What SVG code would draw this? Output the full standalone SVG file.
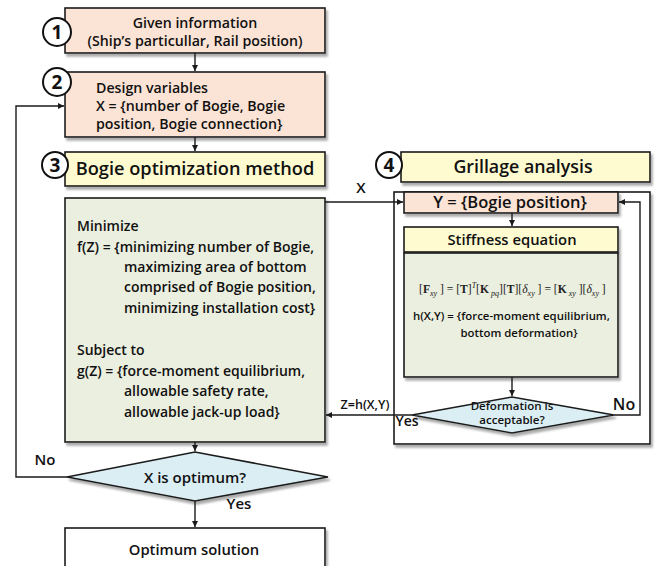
<svg xmlns="http://www.w3.org/2000/svg" width="656" height="566" viewBox="0 0 656 566">
<defs>
<style>
.t{font-family:"Open Sans","Noto Sans","Liberation Sans",sans-serif;font-weight:600;fill:#111}
.box{stroke:#1a1a1a;stroke-width:1.6}
.peach{fill:#fbe4d5}
.yel{fill:#fefbd0}
.grn{fill:#ebefdf}
.dia{fill:#dbeef4}
.circ{fill:#fff;stroke:#111;stroke-width:2}
.ln{fill:none;stroke:#1a1a1a;stroke-width:1.4}
.num{font-family:"Open Sans","Liberation Sans",sans-serif;font-weight:700;font-size:19px;fill:#111}
.f{font-family:"Liberation Serif",serif;font-size:11.6px;fill:#222}
</style>
<filter id="sh" x="-5%" y="-5%" width="115%" height="130%">
<feDropShadow dx="2" dy="3" stdDeviation="0.8" flood-color="#888" flood-opacity="0.7"/>
</filter>
<marker id="ar" viewBox="0 0 10 10" refX="10" refY="5" markerWidth="6" markerHeight="6" orient="auto-start-reverse" markerUnits="userSpaceOnUse">
<path d="M0,0 L10,5 L0,10 z" fill="#1a1a1a"/>
</marker>
</defs>
<rect width="656" height="566" fill="#fff"/>

<g id="frame4">
<rect x="394" y="192" width="256" height="252" fill="#fff" class="box" filter="url(#sh)"/>
</g>

<g id="node1">
<rect x="65" y="8" width="260" height="45" class="box peach" filter="url(#sh)"/>
<text class="t" x="195" y="28" font-size="14.2" text-anchor="middle">Given information</text>
<text class="t" x="195" y="46" font-size="14.2" text-anchor="middle">(Ship’s particullar, Rail position)</text>
<circle cx="57" cy="32" r="14" class="circ"/>
<text class="num" x="57" y="39" text-anchor="middle">1</text>
</g>

<g id="node2">
<rect x="65" y="72" width="260" height="65" class="box peach" filter="url(#sh)"/>
<text class="t" x="96" y="93" font-size="14.2">Design variables</text>
<text class="t" x="96" y="111" font-size="14.2">X = {number of Bogie, Bogie</text>
<text class="t" x="96" y="129" font-size="14.2">position, Bogie connection}</text>
<circle cx="57" cy="82" r="14" class="circ"/>
<text class="num" x="57" y="89" text-anchor="middle">2</text>
</g>

<g id="node3">
<rect x="65" y="152" width="260" height="34" class="box yel" filter="url(#sh)"/>
<text class="t" x="195" y="175" font-size="18.2" text-anchor="middle">Bogie optimization method</text>
<circle cx="55" cy="165" r="13" class="circ"/>
<text class="num" x="55" y="172" text-anchor="middle">3</text>
</g>

<g id="node3body">
<rect x="65" y="198" width="260" height="244" class="box grn" filter="url(#sh)"/>
<text class="t" font-size="14">
<tspan x="77" y="231">Minimize</tspan>
<tspan x="77" y="252">f(Z) = {minimizing number of Bogie,</tspan>
<tspan x="124" y="272">maximizing area of bottom</tspan>
<tspan x="124" y="292">comprised of Bogie position,</tspan>
<tspan x="124" y="313">minimizing installation cost}</tspan>
<tspan x="77" y="355">Subject to</tspan>
<tspan x="77" y="376">g(Z) = {force-moment equilibrium,</tspan>
<tspan x="124" y="396">allowable safety rate,</tspan>
<tspan x="124" y="417">allowable jack-up load}</tspan>
</text>
</g>

<g id="decision1">
<polygon points="67,477 195,452 328,477 195,501" class="box dia" filter="url(#sh)"/>
<text class="t" x="195" y="483" font-size="15" text-anchor="middle">X is optimum?</text>
</g>

<g id="node5">
<rect x="65" y="528" width="260" height="50" fill="#fff" class="box" filter="url(#sh)"/>
<text class="t" x="194" y="555" font-size="14.8" text-anchor="middle">Optimum solution</text>
</g>

<g id="node4">
<rect x="401" y="152" width="249" height="30" class="box yel" filter="url(#sh)"/>
<text class="t" x="523" y="173" font-size="17.8" text-anchor="middle">Grillage analysis</text>
<circle cx="389" cy="165" r="13" class="circ"/>
<text class="num" x="389" y="172" text-anchor="middle">4</text>
</g>

<g id="nodeY">
<rect x="404" y="192" width="214" height="21" class="box peach" filter="url(#sh)"/>
<text class="t" x="510" y="208" font-size="16.5" text-anchor="middle">Y = {Bogie position}</text>
</g>

<g id="nodeStiff">
<rect x="404" y="227" width="214" height="25" class="box yel" filter="url(#sh)"/>
<text class="t" x="512" y="245" font-size="14.8" text-anchor="middle">Stiffness equation</text>
</g>

<g id="nodeStiffBody">
<rect x="404" y="253" width="214" height="124" class="box grn" filter="url(#sh)"/>
<text class="f" x="419" y="293">[<tspan font-weight="bold">F</tspan><tspan font-size="8" font-style="italic" dy="3">xy</tspan><tspan dy="-3"> ] = [</tspan><tspan font-weight="bold">T</tspan>]<tspan font-size="8" font-style="italic" dy="-5">T</tspan><tspan dy="5">[</tspan><tspan font-weight="bold">K</tspan><tspan font-size="8" font-style="italic" dy="3"> pq</tspan><tspan dy="-3">][</tspan><tspan font-weight="bold">T</tspan>][<tspan font-style="italic">δ</tspan><tspan font-size="8" font-style="italic" dy="3">xy</tspan><tspan dy="-3"> ] = [</tspan><tspan font-weight="bold">K</tspan><tspan font-size="8" font-style="italic" dy="3"> xy</tspan><tspan dy="-3"> ][</tspan><tspan font-style="italic">δ</tspan><tspan font-size="8" font-style="italic" dy="3">xy</tspan><tspan dy="-3"> ]</tspan></text>
<text class="t" x="413" y="320" font-size="11.4">h(X,Y) = {force-moment equilibrium,</text>
<text class="t" x="519" y="337" font-size="11.4" text-anchor="middle">bottom deformation}</text>
</g>

<g id="decision2">
<polygon points="412,415 512,397 614,415 512,433" class="box dia" filter="url(#sh)"/>
<text class="t" x="512" y="410" font-size="11.5" text-anchor="middle">Deformation is</text>
<text class="t" x="512" y="424" font-size="11.5" text-anchor="middle">acceptable?</text>
</g>

<g id="connectors">
<path class="ln" d="M195,53 V71" marker-end="url(#ar)"/>
<path class="ln" d="M195,137 V151" marker-end="url(#ar)"/>
<path class="ln" d="M195,442 V451" marker-end="url(#ar)"/>
<path class="ln" d="M195,501 V527" marker-end="url(#ar)"/>
<path class="ln" d="M67,477 H16 V106 H64" marker-end="url(#ar)"/>
<path class="ln" d="M325,202 H403" marker-end="url(#ar)"/>
<path class="ln" d="M412,415 H326" marker-end="url(#ar)"/>
<path class="ln" d="M614,415 H640 V202 H619" marker-end="url(#ar)"/>
<path class="ln" d="M512,213 V226" marker-end="url(#ar)"/>
<path class="ln" d="M512,377 V396" marker-end="url(#ar)"/>
<text class="t" x="361" y="193" font-size="15" text-anchor="middle">X</text>
<text class="t" x="365" y="409" font-size="12.5" text-anchor="middle">Z=h(X,Y)</text>
<text class="t" x="45" y="465" font-size="15" text-anchor="middle">No</text>
<text class="t" x="239" y="509" font-size="15" text-anchor="middle">Yes</text>
<text class="t" x="407" y="426" font-size="14" text-anchor="middle">Yes</text>
<text class="t" x="624" y="410" font-size="16" text-anchor="middle">No</text>
</g>
</svg>
